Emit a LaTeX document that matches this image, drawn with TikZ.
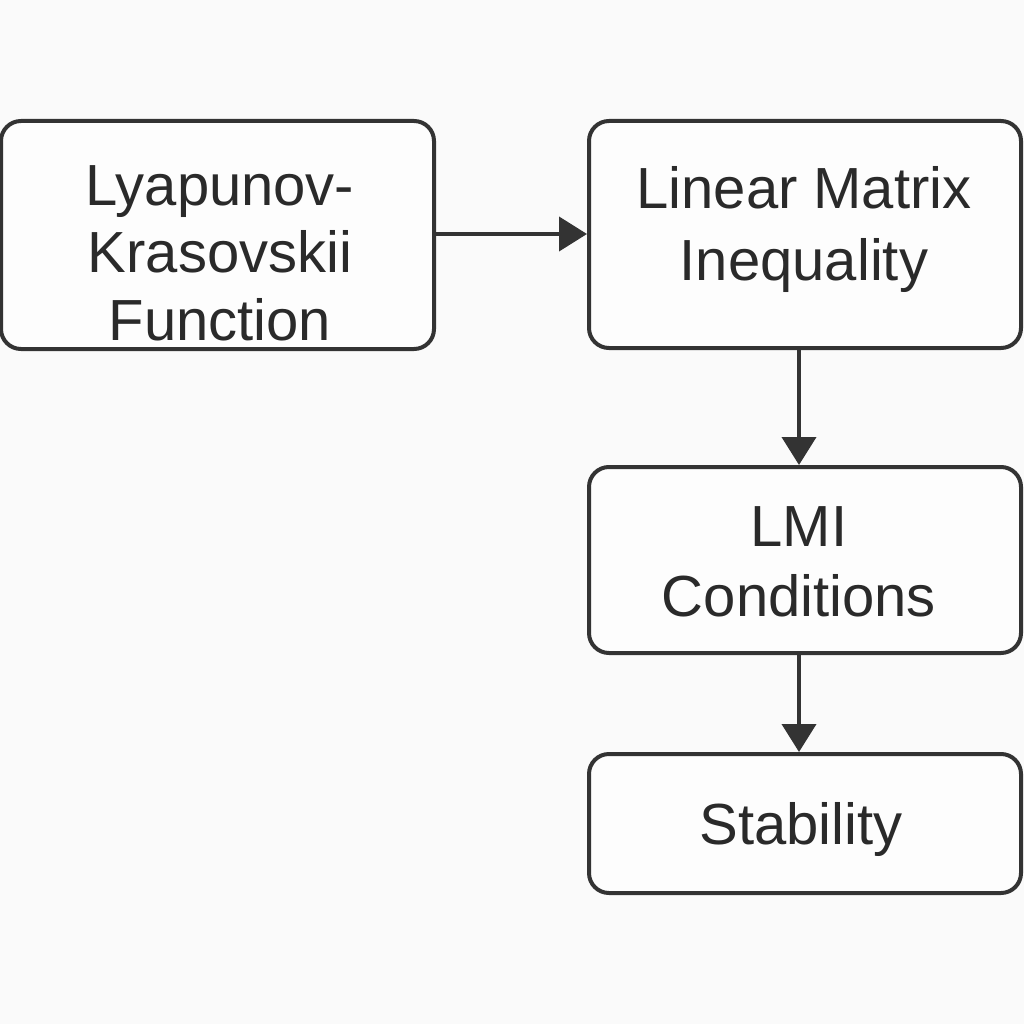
\documentclass[tikz,border=0pt]{standalone}
\usepackage{fontspec}
\setmainfont{Liberation Sans}
\usetikzlibrary{arrows.meta}
\definecolor{bg}{HTML}{FAFAFA}
\definecolor{ln}{HTML}{333333}
\definecolor{tx}{HTML}{2A2A2A}
\begin{document}
\begin{tikzpicture}[x=1pt,y=-1pt,
  box/.style={draw=ln,line width=4pt,rounded corners=20pt,inner sep=0pt,fill=white!60!bg},
  lbl/.style={text=tx,align=center,font=\fontsize{58}{70}\selectfont,inner sep=0pt},
  conn/.style={draw=ln,line width=4pt,-{Triangle[length=28pt,width=34pt]}}]
\fill[bg] (0,0) rectangle (1024,1024);
\useasboundingbox (0,0) rectangle (1024,1024);
\node[box,minimum width=433pt,minimum height=228pt] (b1) at (217.5,235) {};
\node[box,minimum width=432pt,minimum height=227pt] (b2) at (805,234.5) {};
\node[box,minimum width=432pt,minimum height=186pt] (b3) at (805,560) {};
\node[box,minimum width=432pt,minimum height=139pt] (b4) at (805,823.5) {};
\node[lbl,font=\fontsize{58}{67.5}\selectfont] (t1) at (220,253) {Lyapunov-\\Krasovskii\\Function};
\node[lbl,font=\fontsize{58}{72}\selectfont] (t2) at (804,230) {Linear Matrix\\Inequality};
\node[lbl] (t3) at (799,562) {LMI\\Conditions};
\node[lbl] (t4) at (801,829) {Stability};
\coordinate (ax) at (799,0);
\coordinate (ay) at (0,234);
\draw[conn] (b1.east |- ay) -- (b2.west |- ay);
\draw[conn] (b2.south -| ax) -- (b3.north -| ax);
\draw[conn] (b3.south -| ax) -- (b4.north -| ax);
\end{tikzpicture}
\end{document}
